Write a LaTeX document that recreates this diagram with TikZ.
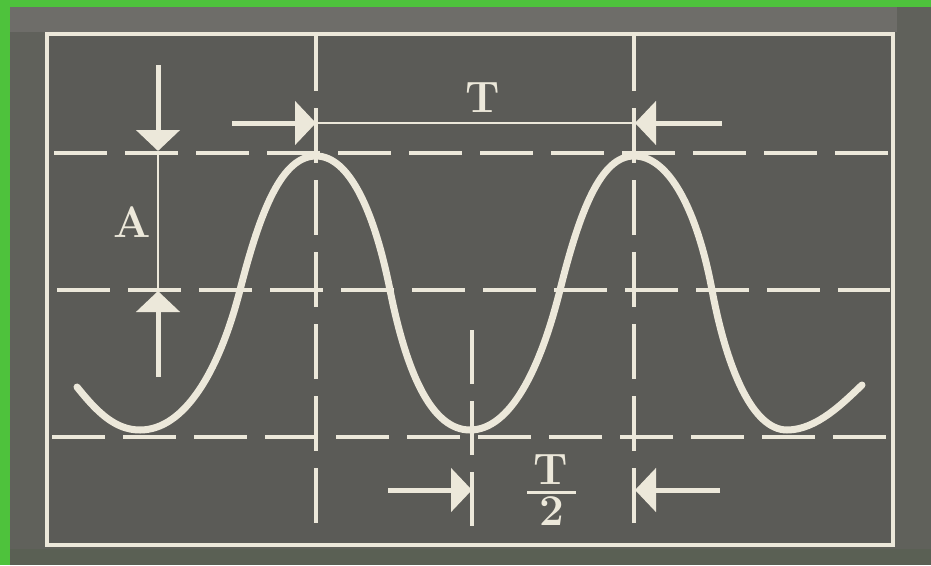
\documentclass[tikz,border=0pt]{standalone}
\usetikzlibrary{arrows.meta}
\definecolor{bggray}{HTML}{5B5B57}
\definecolor{edgegray}{HTML}{60615B}
\definecolor{bandgray}{HTML}{6E6D69}
\definecolor{botgray}{HTML}{5A6054}
\definecolor{chalk}{HTML}{ECE8DA}
\definecolor{greenbd}{HTML}{4EC23C}
\begin{document}
\begin{tikzpicture}[x=1pt,y=-1pt,
  frame/.style={draw=chalk, line width=3.5pt},
  hgrid/.style={draw=chalk, line width=4pt, dash pattern=on 53pt off 18pt},
  vgrid/.style={draw=chalk, line width=4pt, dash pattern=on 55pt off 17pt},
  thinline/.style={draw=chalk, line width=2pt},
  dimarrow/.style={draw=chalk, line width=5pt, -{Triangle[length=21pt,width=43pt]}},
  wave/.style={draw=chalk, line width=7pt, line cap=round},
  lbl/.style={text=chalk, font=\fontsize{44}{50}\selectfont\bfseries, inner sep=0pt}
]
\useasboundingbox (0,0) rectangle (931,565);
% background
\fill[greenbd] (0,0) rectangle (931,565);
\fill[edgegray] (10,7) rectangle (931,565);
\fill[bandgray] (10,7) rectangle (897,32);
\fill[botgray] (10,549) rectangle (931,565);
\fill[bggray] (47,34) rectangle (893,545);
\draw[frame] (47,34) rectangle (893,545);

% grid coordinates
\coordinate (h1a) at (54,153);  \coordinate (h1b) at (890,153);
\coordinate (h2a) at (57,290);  \coordinate (h2b) at (890,290);
\coordinate (h3a) at (52,437);  \coordinate (h3b) at (890,437);
\coordinate (v1a) at (316,36);  \coordinate (v1b) at (316,525);
\coordinate (v2a) at (634,36);  \coordinate (v2b) at (634,525);
\coordinate (v3a) at (472,330); \coordinate (v3b) at (472,526);

\draw[hgrid] (h1a) -- (h1b);
\draw[hgrid] (h2a) -- (h2b);
\draw[hgrid] (h3a) -- (h3b);
\draw[vgrid] (v1a) -- (v1b);
\draw[vgrid] (v2a) -- (v2b);
\draw[vgrid, dash pattern=on 54pt off 17pt] (v3a) -- (v3b);

% wave: extrema and inflection points
\coordinate (w0) at (77,387);
\coordinate (t0) at (140,430);
\coordinate (i1) at (240,290);
\coordinate (p1) at (316,156);
\coordinate (i2) at (390,290);
\coordinate (t1) at (470,430);
\coordinate (i3) at (560,290);
\coordinate (p2) at (634,156);
\coordinate (i4) at (712,290);
\coordinate (t2) at (787,430);
\coordinate (w9) at (862,385);
\draw[wave] (w0)
  .. controls (97,412) and (115,430) .. (t0)
  .. controls (185,430) and (219.5,370) .. (i1)
  .. controls (260.5,210) and (282,156) .. (p1)
  .. controls (349,156) and (374,210) .. (i2)
  .. controls (408,380) and (434,430) .. (t1)
  .. controls (510,430) and (540,370) .. (i3)
  .. controls (580,210) and (601,156) .. (p2)
  .. controls (669,156) and (697,210) .. (i4)
  .. controls (727,370) and (753,430) .. (t2)
  .. controls (817,430) and (844,402) .. (w9);

% period T
\coordinate (tL0) at (232,123); \coordinate (tL1) at (316,123);
\coordinate (tR0) at (722,123); \coordinate (tR1) at (634,123);
\draw[thinline] (tL1) -- (tR1);
\draw[dimarrow] (tL0) -- (tL1);
\draw[dimarrow] (tR0) -- ([xshift=1pt]tR1);
\node[lbl] (T) at (483,98) {T};

% amplitude A
\coordinate (a0) at (158,65);  \coordinate (a1) at (158,151);
\coordinate (b0) at (158,377); \coordinate (b1) at (158,291);
\draw[thinline] (a1) -- (b1);
\draw[dimarrow] (a0) -- (a1);
\draw[dimarrow] (b0) -- (b1);
\node[lbl] (A) at (132,222) {A};

% half period T/2
\coordinate (hL0) at (388,490); \coordinate (hL1) at (472,490);
\coordinate (hR0) at (720,490); \coordinate (hR1) at (635,490);
\draw[dimarrow] (hL0) -- (hL1);
\draw[dimarrow] (hR0) -- (hR1);
\node[lbl] (num) at (551,470) {T};
\node[lbl] (den) at (552,511) {2};
\coordinate (barL) at (527,492); \coordinate (barR) at (576,492);
\draw[draw=chalk, line width=3pt] (barL) -- (barR);
\end{tikzpicture}
\end{document}
